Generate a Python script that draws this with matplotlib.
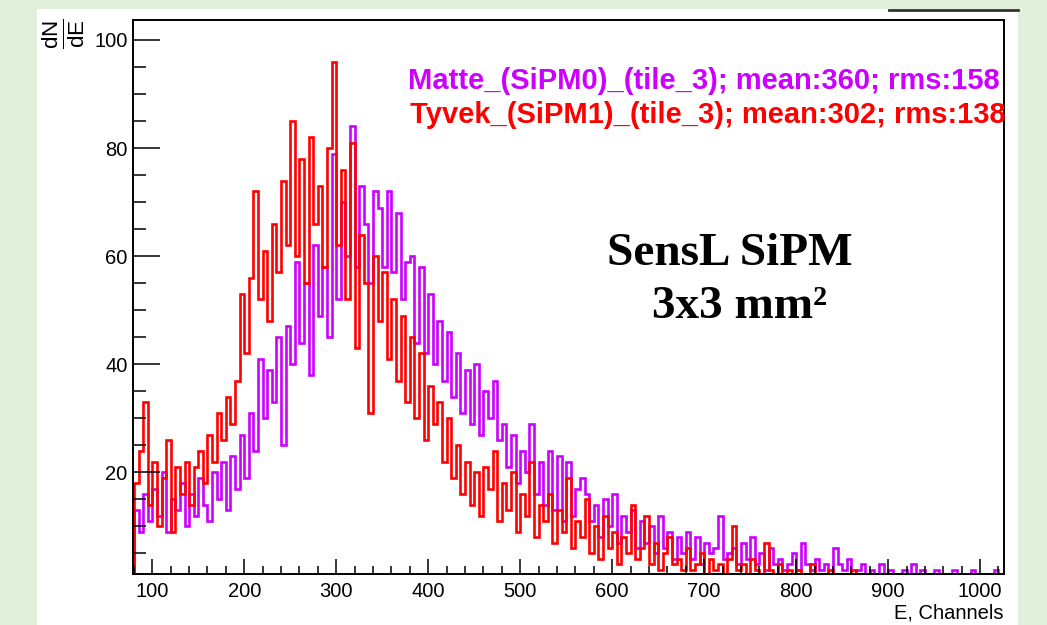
#!/usr/bin/env python
# -*- coding:utf-8 -*-
import numpy as np
import matplotlib as mpl
import matplotlib.pyplot as plt
from matplotlib.lines import Line2D
from matplotlib.patches import Rectangle
from matplotlib.ticker import MultipleLocator

# 5-channel bins from 80 to 1030
bin_lo = 80
bin_hi = 1030
bin_w = 5

# Matte_(SiPM0)_(tile_3), counts per bin
matte = [13, 9, 16, 11, 17, 12, 20, 9, 15, 13,
         18, 10, 16, 12, 19, 14, 11, 20, 15, 22,
         13, 23, 17, 27, 19, 31, 24, 41, 30, 39,
         33, 45, 25, 47, 40, 59, 44, 55, 38, 62,
         49, 58, 45, 79, 52, 70, 60, 84, 58, 73,
         66, 55, 72, 69, 58, 72, 57, 68, 52, 59,
         60, 44, 58, 42, 53, 40, 48, 37, 46, 34,
         42, 31, 39, 29, 40, 27, 35, 30, 37, 26,
         29, 21, 27, 18, 24, 20, 29, 16, 22, 14,
         24, 13, 23, 11, 22, 12, 17, 19, 16, 11,
         14, 8, 15, 10, 16, 7, 12, 9, 13, 6,
         11, 7, 10, 5, 12, 6, 9, 4, 8, 5,
         9, 4, 8, 3, 7, 5, 6, 12, 4, 5,
         6, 3, 7, 4, 8, 3, 5, 2, 6, 3,
         4, 2, 3, 5, 2, 7, 3, 2, 4, 2,
         3, 1, 6, 3, 2, 4, 1, 2, 3, 1,
         2, 1, 3, 1, 2, 1, 0, 2, 1, 3,
         1, 2, 0, 1, 2, 1, 0, 1, 2, 1,
         0, 1, 2, 0, 1, 0, 1, 2, 0, 1]

# Tyvek_(SiPM1)_(tile_3)
tyvek = [18, 24, 33, 14, 22, 10, 19, 26, 9, 21,
         16, 22, 14, 21, 24, 18, 27, 22, 31, 26,
         34, 29, 37, 53, 42, 56, 72, 52, 61, 48,
         66, 57, 74, 62, 85, 60, 78, 55, 82, 66,
         73, 58, 80, 96, 62, 76, 52, 81, 43, 64,
         55, 31, 60, 48, 57, 41, 52, 37, 49, 33,
         45, 30, 42, 26, 36, 29, 33, 22, 30, 19,
         25, 16, 22, 14, 20, 12, 21, 17, 24, 11,
         18, 13, 20, 9, 16, 12, 22, 8, 14, 11,
         16, 7, 13, 9, 19, 6, 11, 8, 15, 5,
         10, 4, 12, 6, 9, 3, 8, 5, 14, 4,
         6, 12, 3, 7, 2, 5, 8, 3, 4, 2,
         6, 2, 3, 5, 1, 4, 2, 3, 1, 4,
         10, 2, 3, 1, 4, 2, 1, 7, 2, 1,
         3, 1, 2, 1, 2, 0, 1, 3, 1, 0,
         1, 2, 0, 1, 1, 0, 2, 1, 0, 1,
         1, 0, 1, 0, 1, 1, 0, 0, 1, 0,
         0, 1, 0, 0, 1, 0, 0, 1, 0, 0,
         0, 0, 1, 0, 0, 0, 1, 0, 0, 1]

legend_matte = 'Matte_(SiPM0)_(tile_3); mean:360; rms:158'
legend_tyvek = 'Tyvek_(SiPM1)_(tile_3); mean:302; rms:138'
x_ticks = [100, 200, 300, 400, 500, 600, 700, 800, 900, 1000]
y_ticks = [20, 40, 60, 80, 100]

if __name__ == "__main__":

    edges = np.arange(bin_lo, bin_hi + 1, bin_w)

    mpl.rcParams['font.family'] = ['Liberation Sans', 'DejaVu Sans']
    mpl.rcParams['mathtext.fontset'] = 'custom'
    mpl.rcParams['mathtext.rm'] = 'Liberation Sans'
    mpl.rcParams['mathtext.it'] = 'Liberation Sans'

    fig = plt.figure(figsize=(10.47, 6.25), dpi=100, facecolor='#e2efda')
    # white slide panel + short dark rule at its top
    fig.add_artist(Rectangle((37 / 1047, 0), 981 / 1047, 616 / 625,
                             transform=fig.transFigure, facecolor='white',
                             edgecolor='none', zorder=0))
    fig.add_artist(Line2D([889 / 1047, 1018 / 1047], [615.5 / 625, 615.5 / 625],
                          transform=fig.transFigure, color='#333333', lw=2))

    ax = fig.add_axes([133 / 1047, 51 / 625, 871 / 1047, 554 / 625])
    ax.stairs(matte, edges, color='#cc00ff', lw=1.9)
    ax.stairs(tyvek, edges, color='#ff0000', lw=1.9)

    ax.set_xlim(79, 1026)
    ax.set_ylim(1.2, 103.7)
    ax.set_xticks(x_ticks)
    ax.set_yticks(y_ticks)
    ax.xaxis.set_minor_locator(MultipleLocator(20))
    ax.yaxis.set_minor_locator(MultipleLocator(5))
    ax.tick_params(axis='x', which='major', direction='in', length=11, width=1.1,
                   labelsize=14.5, pad=6)
    ax.tick_params(axis='x', which='minor', direction='in', length=5.5, width=1.1)
    ax.tick_params(axis='y', which='major', direction='in', length=19.5, width=1.1,
                   labelsize=14.5, pad=4)
    ax.tick_params(axis='y', which='minor', direction='in', length=9.7, width=1.1)
    for s in ax.spines.values():
        s.set_linewidth(1.4)
        s.set_zorder(5)
    ax.set_axisbelow(False)

    # axis titles
    fig.text(1003 / 1047, 1 - 613 / 625, 'E, Channels', ha='right', va='center',
             fontsize=14.5)
    fig.text(64 / 1047, 1 - 34 / 625, r'$\frac{dN}{dE}$', rotation=90,
             ha='center', va='center', fontsize=23)

    # legend lines
    fig.text(1000 / 1047, 1 - 89 / 625, legend_matte, ha='right', va='baseline',
             fontsize=21, fontweight='bold', color='#cc00ff')
    fig.text(1006 / 1047, 1 - 123 / 625, legend_tyvek, ha='right', va='baseline',
             fontsize=21, fontweight='bold', color='#ff0000')

    # annotation
    fig.text(607 / 1047, 1 - 265 / 625, 'SensL SiPM', ha='left', va='baseline',
             fontsize=34, fontweight='bold', family='Liberation Serif')
    fig.text(652 / 1047, 1 - 318 / 625, '3x3 mm\u00b2', ha='left', va='baseline',
             fontsize=34, fontweight='bold', family='Liberation Serif')

    plt.savefig('out.png', dpi=100, facecolor=fig.get_facecolor())
